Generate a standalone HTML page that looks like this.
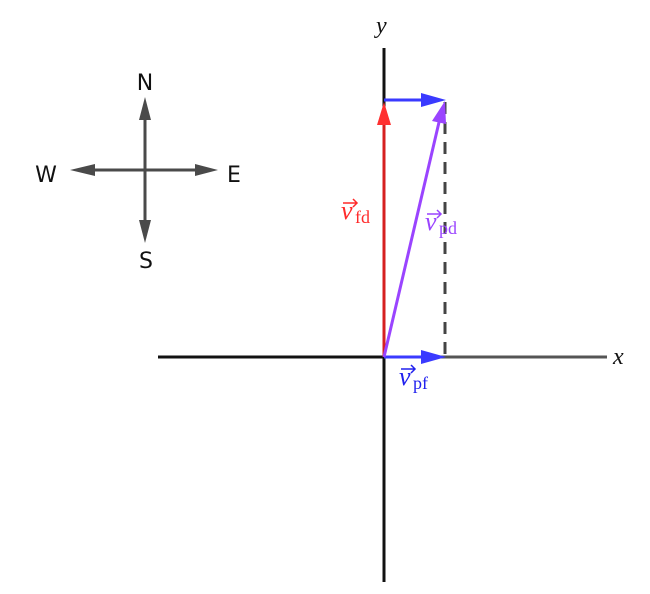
<!DOCTYPE html>
<html><head><meta charset="utf-8"><style>body{margin:0;background:#fff}</style></head><body>
<svg width="650" height="589" viewBox="0 0 650 589" xmlns="http://www.w3.org/2000/svg">
<g stroke-width="3" fill="none">
<line x1="158" y1="357" x2="384" y2="357" stroke="#111"/>
<line x1="384" y1="357" x2="607" y2="357" stroke="#555"/>
<line x1="384" y1="48" x2="384" y2="582" stroke="#111"/>
<line x1="445" y1="102" x2="445" y2="357" stroke="#444" stroke-dasharray="12,8"/>
<line x1="384" y1="357" x2="384" y2="120" stroke="#d62020"/>
<line x1="384" y1="100" x2="428" y2="100" stroke="#3a3aff"/>
<line x1="384" y1="357" x2="428" y2="357" stroke="#3a3aff"/>
<line x1="384" y1="357" x2="440" y2="118" stroke="#9a44ff"/>
</g>
<polygon points="384,102 377,125 391,125" fill="#ff3030"/>
<polygon points="446,100 421,93 421,107" fill="#3a3aff"/>
<polygon points="446,357 421,350 421,364" fill="#3a3aff"/>
<polygon points="445,101 432,121 446,124" fill="#9a44ff"/>
<g stroke="#4a4a4a" stroke-width="3">
<line x1="145" y1="120" x2="145" y2="220"/>
<line x1="95" y1="170" x2="195" y2="170"/>
</g>
<g fill="#4a4a4a">
<polygon points="145,97 139,120 151,120"/>
<polygon points="145,243 139,220 151,220"/>
<polygon points="70,170 95,164 95,176"/>
<polygon points="218,170 195,164 195,176"/>
</g>
<g font-family="DejaVu Sans, sans-serif" font-size="22" fill="#111" text-anchor="middle">
<text x="145" y="90">N</text><text x="146" y="268">S</text>
<text x="46" y="182">W</text><text x="234" y="182">E</text>
</g>
<g font-family="Liberation Serif, serif" font-style="italic" font-size="24" fill="#111">
<text x="376" y="33">y</text><text x="613" y="364">x</text>
</g>
<g font-family="Liberation Serif, serif" font-size="26">
<g fill="#ff2a2a"><text x="341" y="219" font-style="italic">v</text><text x="355" y="223" font-size="18">fd</text>
<path d="M343,203 h14 M353,199 l4,4 l-4,4" stroke="#ff2a2a" stroke-width="1.5" fill="none"/></g>
<g fill="#9a44ff"><text x="425" y="230" font-style="italic">v</text><text x="439" y="234" font-size="18">pd</text>
<path d="M427,214 h14 M437,210 l4,4 l-4,4" stroke="#9a44ff" stroke-width="1.5" fill="none"/></g>
<g fill="#2020ee"><text x="399" y="385" font-style="italic">v</text><text x="413" y="389" font-size="18">pf</text>
<path d="M401,369 h14 M411,365 l4,4 l-4,4" stroke="#2020ee" stroke-width="1.5" fill="none"/></g>
</g>
</svg>
</body></html>
